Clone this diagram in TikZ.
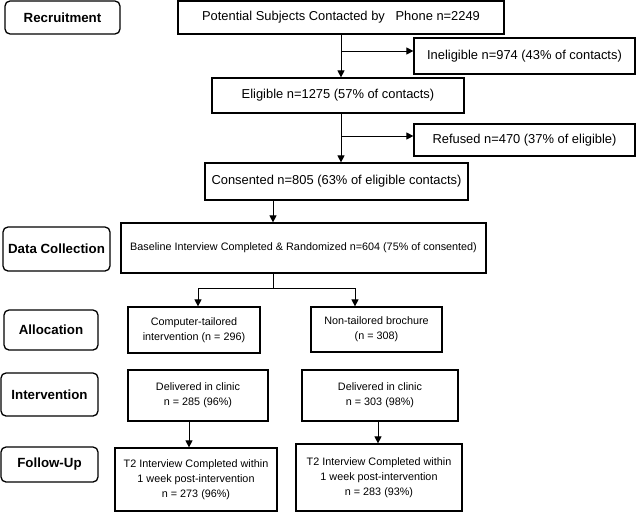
\documentclass[tikz,border=0pt]{standalone}
\usepackage{fontspec}
\setmainfont{Liberation Sans}
\usetikzlibrary{arrows.meta}
\newcommand{\BigTxt}{\fontsize{12.9}{15}\selectfont}
\newcommand{\SmallTxt}{\fontsize{10.8}{15}\selectfont}
\tikzset{
  stagebox/.style={draw, line width=1.3pt, rounded corners=5pt, inner sep=0pt,
    font=\fontsize{13.3}{16}\selectfont\bfseries},
  flowbox/.style={draw, line width=1.2pt, inner sep=0pt, align=center, font=\BigTxt},
  flowboxsm/.style={draw, line width=1.2pt, inner sep=0pt, align=center, font=\SmallTxt},
  arr/.style={line width=1pt, -{Triangle[length=7pt,width=7pt]}}
}

\begin{document}
\begin{tikzpicture}[x=1pt,y=-1pt]
\useasboundingbox (0,0) rectangle (641,512);

% stages on the left
\node[stagebox, minimum width=115pt, minimum height=33pt] (rec) at (62.5,17.5) {Recruitment};
\node[stagebox, minimum width=107pt, minimum height=44pt] (dat) at (56.5,249) {Data Collection};
\node[stagebox, minimum width=94pt, minimum height=40pt] (all) at (51,330) {Allocation};
\node[stagebox, minimum width=97pt, minimum height=43pt] (int) at (49.5,394.5) {Intervention};
\node[stagebox, minimum width=97pt, minimum height=35pt] (fol) at (49.5,464.5) {Follow-Up};

% recruitment flow
\node[flowbox, minimum width=326pt, minimum height=33pt] (pot) at (341,17.5)
  {Potential Subjects Contacted by\ \ \ Phone n=2249};
\node[flowbox, minimum width=221pt, minimum height=36pt] (inel) at (524.5,56)
  {Ineligible n=974 (43\% of contacts)};
\node[flowbox, minimum width=252pt, minimum height=35pt] (elig) at (338,95.5)
  {Eligible n=1275 (57\% of contacts)};
\node[flowbox, minimum width=221pt, minimum height=32pt] (ref) at (524.5,140)
  {Refused n=470 (37\% of eligible)};
\node[flowbox, minimum width=263pt, minimum height=37pt] (cons) at (336.5,181.5)
  {Consented n=805 (63\% of eligible contacts)};

% baseline and the two arms
\node[flowboxsm, minimum width=365pt, minimum height=50pt] (base) at (303.5,248)
  {Baseline Interview Completed \& Randomized n=604 (75\% of consented)};
\node[flowboxsm, minimum width=132pt, minimum height=46pt] (comp) at (194,330)
  {Computer-tailored\\intervention (n = 296)};
\node[flowboxsm, minimum width=131pt, minimum height=45pt] (non) at (376.5,329.5)
  {Non-tailored brochure\\(n = 308)};
\node[flowboxsm, minimum width=140pt, minimum height=51pt] (delL) at (198,395.5)
  {Delivered in clinic\\n = 285 (96\%)};
\node[flowboxsm, minimum width=156pt, minimum height=51pt] (delR) at (380,395.5)
  {Delivered in clinic\\n = 303 (98\%)};
\node[flowboxsm, minimum width=162pt, minimum height=63pt] (t2L) at (196,479.5)
  {T2 Interview Completed within\\1 week post-intervention\\n = 273 (96\%)};
\node[flowboxsm, minimum width=166pt, minimum height=67pt] (t2R) at (379,477.5)
  {T2 Interview Completed within\\1 week post-intervention\\n = 283 (93\%)};

% branch points
\coordinate (b1) at (341,51);
\coordinate (b2) at (341,136);
\coordinate (b3) at (273,288);
\coordinate (c1) at (198,288);
\coordinate (c2) at (355,288);
\coordinate (d1) at (189,0);
\coordinate (d2) at (378,0);

% arrows
\draw[arr] (pot.south) -- (pot.south |- elig.north);
\draw[arr] (b1) -- (b1 -| inel.west);
\draw[arr] (elig.south -| b2) -- (b2 |- cons.north);
\draw[arr] (b2) -- (b2 -| ref.west);
\draw[arr] (cons.south -| b3) -- (base.north -| b3);
\draw[line width=1pt] (base.south -| b3) -- (b3);
\draw[arr] (b3) -| (c1 |- comp.north);
\draw[arr] (b3) -| (c2 |- non.north);
\draw[arr] (delL.south -| d1) -- (t2L.north -| d1);
\draw[arr] (delR.south -| d2) -- (t2R.north -| d2);
\end{tikzpicture}
\end{document}
